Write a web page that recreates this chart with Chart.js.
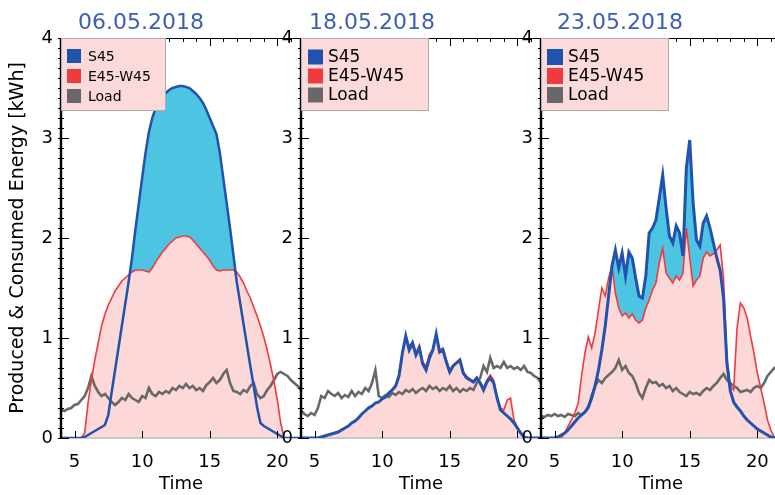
<!DOCTYPE html>
<html>
<head>
<meta charset="utf-8">
<script src="https://cdn.jsdelivr.net/npm/chart.js@4"></script>
<style>
  body { margin: 0; width: 775px; height: 495px; overflow: hidden; background: #fff; position: relative; }
  canvas { position: absolute; top: 0; }
  .date { position: absolute; top: 9px; line-height: 22px; font: 22px "DejaVu Sans", sans-serif; color: #3c5fb2; transform: translateX(-50%); white-space: nowrap; }
</style>
</head>
<body>
<canvas id="p1" width="310" height="495" style="left:0px"></canvas>
<canvas id="p2" width="280" height="495" style="left:270px"></canvas>
<canvas id="p3" width="280" height="495" style="left:510px"></canvas>
<div class="date" id="d1" style="left:141px"></div>
<div class="date" id="d2" style="left:372px"></div>
<div class="date" id="d3" style="left:620px"></div>
<script>
// time axis (hours), one row = 2 hours
const hours = [
  4.00, 4.25, 4.50, 4.75, 5.00, 5.25, 5.50, 5.75,
  6.00, 6.25, 6.50, 6.75, 7.00, 7.25, 7.50, 7.75,
  8.00, 8.25, 8.50, 8.75, 9.00, 9.25, 9.50, 9.75,
  10.00, 10.25, 10.50, 10.75, 11.00, 11.25, 11.50, 11.75,
  12.00, 12.25, 12.50, 12.75, 13.00, 13.25, 13.50, 13.75,
  14.00, 14.25, 14.50, 14.75, 15.00, 15.25, 15.50, 15.75,
  16.00, 16.25, 16.50, 16.75, 17.00, 17.25, 17.50, 17.75,
  18.00, 18.25, 18.50, 18.75, 19.00, 19.25, 19.50, 19.75,
  20.00, 20.25, 20.50, 20.75, 21.00, 21.25, 21.50, 21.75,
];
const seriesNames = ["S45", "E45-W45", "Load"];
const panelDates = ["06.05.2018", "18.05.2018", "23.05.2018"];
const xTickValues = [5, 10, 15, 20];
const yTickValues = [0, 1, 2, 3, 4];

// 06.05.2018
const s45Day1 = [
  0, 0, 0, 0, 0, 0, 0, 0.01,
  0.03, 0.05, 0.07, 0.09, 0.11, 0.13, 0.23, 0.46,
  0.68, 0.90, 1.12, 1.34, 1.56, 1.80, 2.08, 2.34,
  2.60, 2.85, 3.06, 3.20, 3.30, 3.37, 3.42, 3.45,
  3.48, 3.50, 3.51, 3.52, 3.52, 3.51, 3.50, 3.47,
  3.44, 3.40, 3.35, 3.28, 3.20, 3.12, 3.04, 2.85,
  2.60, 2.35, 2.10, 1.83, 1.56, 1.35, 1.14, 0.93,
  0.72, 0.52, 0.31, 0.15, 0.12, 0.10, 0.08, 0.06,
  0.04, 0.02, 0, 0, 0, 0, 0, 0,
];
const ewDay1 = [
  0, 0, 0, 0, 0, 0, 0, 0.05,
  0.35, 0.58, 0.78, 0.95, 1.12, 1.24, 1.33, 1.40,
  1.47, 1.52, 1.57, 1.60, 1.63, 1.66, 1.68, 1.68,
  1.68, 1.67, 1.66, 1.70, 1.76, 1.81, 1.86, 1.90,
  1.94, 1.97, 2.00, 2.01, 2.02, 2.02, 2.01, 1.98,
  1.94, 1.90, 1.86, 1.82, 1.78, 1.72, 1.68, 1.67,
  1.68, 1.68, 1.68, 1.68, 1.66, 1.61, 1.55, 1.47,
  1.40, 1.31, 1.22, 1.12, 1.01, 0.88, 0.73, 0.57,
  0.38, 0.15, 0, 0, 0, 0, 0, 0,
];
const loadDay1 = [
  0.28, 0.27, 0.29, 0.30, 0.33, 0.34, 0.38, 0.42,
  0.50, 0.62, 0.52, 0.46, 0.42, 0.44, 0.40, 0.36,
  0.33, 0.36, 0.40, 0.38, 0.44, 0.40, 0.38, 0.36,
  0.42, 0.40, 0.50, 0.44, 0.42, 0.46, 0.44, 0.47,
  0.45, 0.50, 0.48, 0.52, 0.50, 0.54, 0.50, 0.52,
  0.48, 0.50, 0.47, 0.53, 0.56, 0.60, 0.55, 0.58,
  0.64, 0.68, 0.55, 0.47, 0.46, 0.44, 0.48, 0.46,
  0.52, 0.55, 0.44, 0.40, 0.42, 0.48, 0.52, 0.58,
  0.64, 0.66, 0.64, 0.62, 0.58, 0.55, 0.52, 0.48,
];

// 18.05.2018
const s45Day2 = [
  0, 0, 0, 0, 0, 0, 0.01, 0.02,
  0.03, 0.04, 0.05, 0.06, 0.08, 0.10, 0.12, 0.15,
  0.17, 0.20, 0.24, 0.27, 0.30, 0.32, 0.35, 0.36,
  0.39, 0.41, 0.45, 0.48, 0.52, 0.62, 0.85, 1.02,
  0.88, 0.95, 0.83, 0.90, 0.74, 0.68, 0.80, 0.88,
  1.04, 0.86, 0.88, 0.76, 0.66, 0.72, 0.75, 0.78,
  0.65, 0.60, 0.58, 0.56, 0.60, 0.55, 0.48, 0.56,
  0.60, 0.55, 0.40, 0.28, 0.25, 0.22, 0.19, 0.15,
  0.10, 0.05, 0.01, 0, 0, 0, 0, 0,
];
const ewDay2 = [
  0, 0, 0, 0, 0, 0, 0.01, 0.02,
  0.03, 0.04, 0.05, 0.06, 0.08, 0.10, 0.12, 0.15,
  0.17, 0.21, 0.24, 0.27, 0.31, 0.32, 0.35, 0.36,
  0.39, 0.41, 0.46, 0.48, 0.53, 0.64, 0.86, 1.01,
  0.92, 0.96, 0.85, 0.93, 0.76, 0.72, 0.84, 0.89,
  1.03, 0.88, 0.90, 0.78, 0.68, 0.73, 0.76, 0.79,
  0.66, 0.62, 0.59, 0.57, 0.61, 0.56, 0.50, 0.58,
  0.63, 0.58, 0.42, 0.30, 0.28, 0.38, 0.40, 0.18,
  0.11, 0.05, 0.01, 0, 0, 0, 0, 0,
];
const loadDay2 = [
  0.28, 0.24, 0.22, 0.25, 0.23, 0.30, 0.42, 0.40,
  0.47, 0.44, 0.42, 0.45, 0.40, 0.43, 0.41, 0.47,
  0.42, 0.46, 0.44, 0.50, 0.47, 0.55, 0.68, 0.42,
  0.40, 0.43, 0.41, 0.45, 0.43, 0.46, 0.44, 0.48,
  0.46, 0.49, 0.45, 0.48, 0.50, 0.47, 0.52, 0.49,
  0.51, 0.47, 0.50, 0.48, 0.52, 0.47, 0.50, 0.46,
  0.49, 0.47, 0.50, 0.48, 0.55, 0.60, 0.72, 0.66,
  0.80, 0.70, 0.72, 0.70, 0.76, 0.70, 0.72, 0.69,
  0.71, 0.68, 0.72, 0.66, 0.65, 0.62, 0.60, 0.55,
];

// 23.05.2018
const s45Day3 = [
  0, 0, 0, 0, 0, 0.01, 0.03, 0.05,
  0.08, 0.12, 0.16, 0.20, 0.23, 0.26, 0.31, 0.40,
  0.52, 0.68, 0.88, 1.12, 1.42, 1.72, 1.88, 1.70,
  1.85, 1.62, 1.86, 1.80, 1.60, 1.42, 1.40, 1.62,
  2.05, 2.10, 2.18, 2.40, 2.63, 2.30, 2.02, 1.95,
  2.12, 2.05, 1.82, 2.70, 2.98, 2.35, 1.98, 1.92,
  2.15, 2.22, 2.10, 1.95, 1.80, 1.68, 1.40, 0.75,
  0.47, 0.36, 0.31, 0.27, 0.22, 0.18, 0.15, 0.12,
  0.09, 0.07, 0.05, 0.03, 0.01, 0, 0, 0,
];
const ewDay3 = [
  0, 0, 0, 0, 0, 0, 0, 0.05,
  0.12, 0.18, 0.25, 0.35, 0.62, 0.85, 1.01, 0.90,
  1.05, 1.28, 1.50, 1.42, 1.60, 1.72, 1.45, 1.30,
  1.22, 1.25, 1.20, 1.24, 1.18, 1.15, 1.18, 1.30,
  1.38, 1.48, 1.55, 1.75, 1.90, 1.65, 1.60, 1.55,
  1.62, 1.58, 1.65, 2.10, 1.80, 1.52, 1.58, 1.62,
  1.80, 1.86, 1.82, 1.84, 1.88, 1.93, 1.60, 0.80,
  0.52, 0.48, 1.10, 1.35, 1.30, 1.20, 1.02, 0.85,
  0.65, 0.50, 0.35, 0.18, 0.08, 0.01, 0, 0,
];
const loadDay3 = [
  0.22, 0.21, 0.23, 0.22, 0.24, 0.22, 0.23, 0.21,
  0.24, 0.23, 0.22, 0.25, 0.23, 0.26, 0.30, 0.42,
  0.52, 0.58, 0.55, 0.60, 0.63, 0.66, 0.70, 0.78,
  0.68, 0.72, 0.65, 0.62, 0.55, 0.45, 0.40, 0.50,
  0.58, 0.55, 0.56, 0.52, 0.54, 0.50, 0.52, 0.47,
  0.50, 0.46, 0.44, 0.42, 0.46, 0.44, 0.45, 0.43,
  0.47, 0.50, 0.48, 0.52, 0.55, 0.60, 0.64, 0.58,
  0.55, 0.52, 0.50, 0.46, 0.47, 0.48, 0.46, 0.50,
  0.52, 0.50, 0.55, 0.62, 0.66, 0.70, 0.68, 0.72,
];

const font = '"DejaVu Sans", sans-serif';
const blue = "#2152ad";
const red = "#ef3b3f";
const grey = "#686868";
const pink = "#fcd8d8";
const cyan = "#4cc4e2";

// axis frame with IDL-like inward ticks
const framePlugin = {
  id: "frame",
  beforeDatasetsDraw(chart) {
    const { ctx, chartArea: a } = chart;
    ctx.save();
    ctx.strokeStyle = "#c8c8c8";
    ctx.lineWidth = 2;
    ctx.beginPath();
    ctx.moveTo(a.left, a.bottom);
    ctx.lineTo(a.right, a.bottom);
    ctx.stroke();
    ctx.restore();
  },
  afterDatasetsDraw(chart) {
    const { ctx, chartArea: a, scales } = chart;
    const x = scales.x, y = scales.y;
    ctx.save();
    ctx.strokeStyle = "#000";
    ctx.lineWidth = 1;
    ctx.beginPath();
    for (let h = 4; h <= 21; h++) {
      const px = Math.round(x.getPixelForValue(h)) + 0.5;
      const major = xTickValues.includes(h);
      ctx.moveTo(px, a.top);
      ctx.lineTo(px, a.top + (major ? 8 : 4));
      if (major) {
        ctx.moveTo(px, a.bottom);
        ctx.lineTo(px, a.bottom - 7);
      }
    }
    for (let k = 0; k <= 40; k++) {
      const py = Math.round(y.getPixelForValue(k / 10)) + 0.5;
      const major = k % 10 === 0;
      ctx.moveTo(a.left - 3, py);
      ctx.lineTo(a.left + (major ? 8 : 3), py);
    }
    ctx.moveTo(a.left, a.top + 0.5);
    ctx.lineTo(a.right, a.top + 0.5);
    ctx.stroke();
    ctx.lineWidth = 2.5;
    ctx.beginPath();
    ctx.moveTo(a.left, a.top);
    ctx.lineTo(a.left, a.bottom);
    ctx.stroke();
    ctx.restore();
  },
};

// legend drawn as a pink box in the top-left corner of each panel
const boxLegend = {
  id: "boxLegend",
  afterDraw(chart, args, o) {
    const { ctx, chartArea: a } = chart;
    ctx.save();
    ctx.fillStyle = "#fcdada";
    ctx.fillRect(a.left, a.top, o.width, o.height);
    ctx.strokeStyle = "#b8aaaa";
    ctx.lineWidth = 1;
    ctx.strokeRect(a.left + 0.5, a.top + 0.5, o.width, o.height);
    ctx.font = o.size + "px " + font;
    ctx.textBaseline = "middle";
    chart.data.datasets.forEach((ds, i) => {
      const cy = a.top + o.first + i * o.step;
      ctx.fillStyle = ds.borderColor;
      ctx.fillRect(a.left + o.boxX, cy - o.box / 2, o.box, o.box);
      ctx.fillStyle = "#000";
      ctx.fillText(ds.label, a.left + o.textX, cy + 1);
    });
    ctx.restore();
  },
};

function makePanel(id, s45, ew, load, legend, axisWidth, yTitle, blueWidth) {
  return new Chart(document.getElementById(id), {
    type: "line",
    data: {
      labels: hours,
      datasets: [
        {
          label: seriesNames[0],
          data: s45,
          borderColor: blue,
          borderWidth: blueWidth,
          fill: { target: 1, above: cyan, below: "rgba(0,0,0,0)" },
        },
        {
          label: seriesNames[1],
          data: ew,
          borderColor: red,
          borderWidth: 1.6,
          backgroundColor: pink,
          fill: "origin",
        },
        {
          label: seriesNames[2],
          data: load,
          borderColor: grey,
          borderWidth: 2.6,
          fill: false,
        },
      ],
    },
    options: {
      responsive: false,
      animation: false,
      layout: { padding: { top: 38, right: 9, left: 0, bottom: 0 } },
      elements: { point: { radius: 0 }, line: { tension: 0 } },
      plugins: {
        legend: { display: false },
        tooltip: { enabled: false },
        filler: { drawTime: "beforeDatasetsDraw" },
        boxLegend: legend,
      },
      scales: {
        x: {
          type: "linear",
          min: 4,
          max: 21.75,
          grid: { display: false, drawTicks: false },
          border: { display: false },
          afterBuildTicks: (s) => { s.ticks = xTickValues.map((v) => ({ value: v })); },
          ticks: { color: "#000", font: { family: font, size: 18 }, padding: 14, maxRotation: 0 },
          title: { display: true, text: "Time", color: "#000", font: { family: font, size: 18 }, padding: 0 },
          afterFit: (s) => { s.height = 57; },
        },
        y: {
          min: 0,
          max: 4,
          grid: { display: false, drawTicks: false },
          border: { display: false },
          afterBuildTicks: (s) => { s.ticks = yTickValues.map((v) => ({ value: v })); },
          ticks: { color: "#000", font: { family: font, size: 18 }, padding: 8 },
          title: { display: !!yTitle, text: yTitle, color: "#000", font: { family: font, size: 19 }, padding: { top: 7, bottom: 0 } },
          afterFit: (s) => { s.width = axisWidth; },
        },
      },
    },
    plugins: [framePlugin, boxLegend],
  });
}

panelDates.forEach((d, i) => { document.getElementById("d" + (i + 1)).textContent = d; });

makePanel("p1", s45Day1, ewDay1, loadDay1,
  { width: 104, height: 72, size: 14, first: 18, step: 20, boxX: 6, box: 14, textX: 27 },
  61, "Produced & Consumed Energy [kWh]", 2.5);
makePanel("p2", s45Day2, ewDay2, loadDay2,
  { width: 127, height: 72, size: 17, first: 19, step: 19, boxX: 7, box: 15, textX: 27 },
  31, "", 3);
makePanel("p3", s45Day3, ewDay3, loadDay3,
  { width: 127, height: 72, size: 17, first: 19, step: 19, boxX: 6, box: 16, textX: 27 },
  31, "", 3);
</script>
</body>
</html>
